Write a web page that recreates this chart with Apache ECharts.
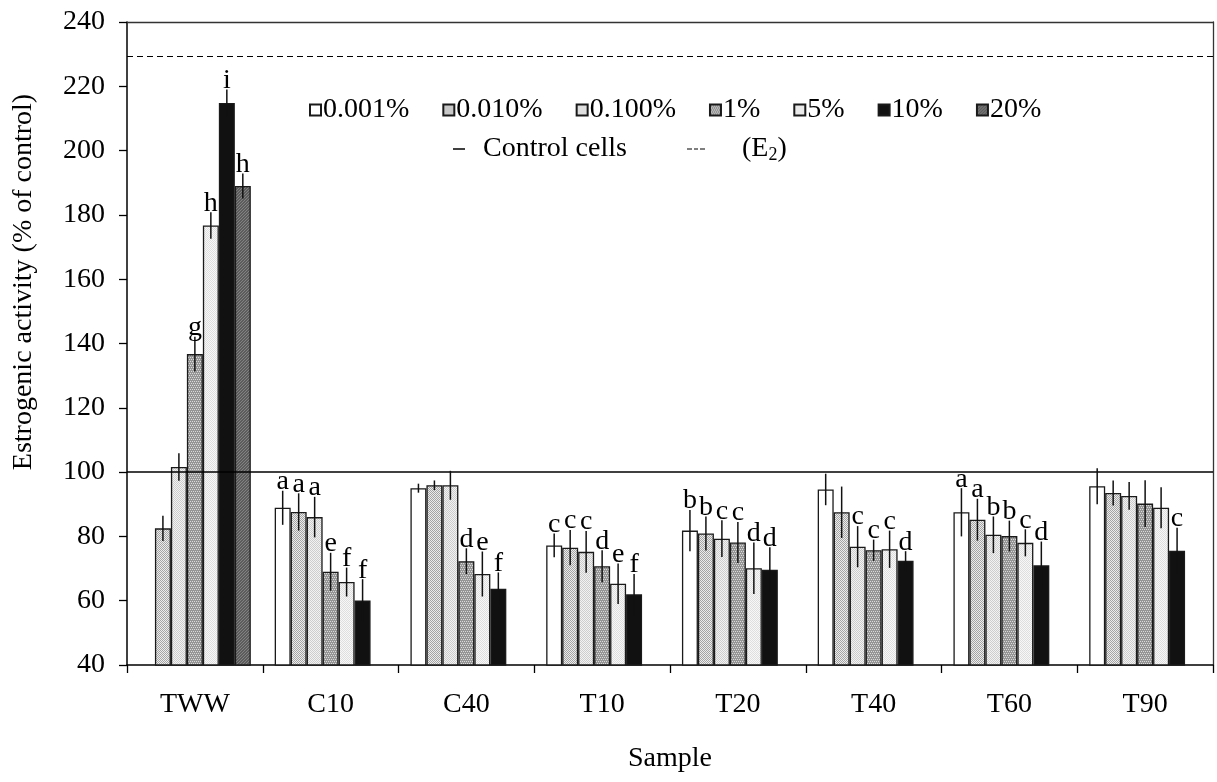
<!DOCTYPE html>
<html>
<head>
<meta charset="utf-8">
<script src="https://cdn.jsdelivr.net/npm/echarts@6/dist/echarts.min.js"></script>
<style>html,body{margin:0;padding:0;background:#fff}#c{width:1217px;height:782px}</style>
</head>
<body>
<div id="c"></div>
<script>
const categories = ['TWW','C10','C40','T10','T20','T40','T60','T90'];
const seriesNames = ['0.001%','0.010%','0.100%','1%','5%','10%','20%'];
const yTicks = {min: 40, max: 240, interval: 20};

const v001 = [null, 88.9, 95.0, 77.2, 81.8, 94.6, 87.5, 95.6];
const v010 = [82.5, 87.6, 95.9, 76.5, 80.9, 87.5, 85.2, 93.5];
const v100 = [101.6, 86.0, 95.9, 75.2, 79.3, 76.8, 80.5, 92.6];
const v1   = [136.7, 69.0, 72.3, 70.7, 78.1, 75.7, 80.1, 90.2];
const v5   = [176.7, 65.8, 68.3, 65.3, 70.1, 76.0, 78.0, 88.9];
const v10  = [214.8, 60.1, 63.7, 62.0, 69.6, 72.4, 71.0, 75.5];
const v20  = [189.0, null, null, null, null, null, null, null];

const e001 = [null, 5.3, 1.4, 3.7, 6.4, 4.9, 7.5, 5.6];
const e010 = [3.9, 5.8, 1.5, 5.5, 5.3, 8.0, 6.5, 3.9];
const e100 = [4.3, 6.3, 4.5, 6.5, 5.7, 6.4, 5.7, 4.3];
const e1   = [5.4, 5.9, 4.0, 5.0, 6.4, 3.3, 4.8, 7.3];
const e5   = [4.1, 4.5, 7.0, 6.3, 8.0, 5.8, 4.2, 6.4];
const e10  = [4.2, 6.6, 5.1, 6.3, 7.0, 3.0, 7.4, 7.2];
const e20  = [3.9, null, null, null, null, null, null, null];

const l001 = ['', 'a', '', 'c', 'b', '', 'a', ''];
const l010 = ['', 'a', '', 'c', 'b', '', 'a', ''];
const l100 = ['', 'a', '', 'c', 'c', 'c', 'b', ''];
const l1   = ['g', 'e', 'd', 'd', 'c', 'c', 'b', ''];
const l5   = ['h', 'f', 'e', 'e', 'd', 'c', 'c', ''];
const l10  = ['i', 'f', 'f', 'f', 'd', 'd', 'd', 'c'];
const l20  = ['h', '', '', '', '', '', '', ''];

const controlValue = 100;
const e2Value = 229.5;

const values = [v001, v010, v100, v1, v5, v10, v20];
const errors = [e001, e010, e100, e1, e5, e10, e20];
const letters = [l001, l010, l100, l1, l5, l10, l20];

const FONT = 'Liberation Serif';
const FS = 28;
const GAP = 0.176;

function pat(w, h, bg, fg, pts) {
  const c = document.createElement('canvas');
  c.width = w; c.height = h;
  const x = c.getContext('2d');
  x.fillStyle = bg; x.fillRect(0, 0, w, h);
  x.fillStyle = fg;
  pts.forEach(p => x.fillRect(p[0], p[1], 1, 1));
  return {image: c, repeat: 'repeat'};
}
const fills = [
  '#ffffff',
  pat(2, 2, '#ececec', '#a4a4a4', [[0,0],[1,1]]),
  pat(2, 2, '#f2f2f2', '#cdcdcd', [[0,0],[1,1]]),
  pat(4, 4, '#959595', '#dadada', [[0,1],[2,1],[1,3],[3,3]]),
  pat(2, 2, '#f7f7f7', '#dedede', [[0,0],[1,1]]),
  '#111111',
  pat(3, 3, '#5c5c5c', '#828282', [[0,0],[2,1],[1,2]])
];

const errItems = [];
values.forEach((arr, s) => arr.forEach((v, c) => {
  if (v != null) errItems.push([c, s, v, errors[s][c], letters[s][c]]);
}));

const barSeries = seriesNames.map((n, s) => ({
  name: n, type: 'bar',
  data: values[s],
  barGap: '0%', barCategoryGap: (GAP * 100) + '%',
  itemStyle: {color: fills[s], borderColor: '#1a1a1a', borderWidth: 1.3},
  emphasis: {disabled: true},
  animation: false
}));

const chart = echarts.init(document.getElementById('c'), null, {renderer: 'canvas'});
chart.setOption({
  backgroundColor: '#ffffff',
  animation: false,
  textStyle: {fontFamily: FONT},
  grid: {left: 127, right: 4, top: 22, bottom: 117},
  legend: [
    {data: seriesNames.map(n => ({name: n, icon: 'rect'})), left: 309, top: 96, padding: 0,
     itemWidth: 11, itemHeight: 11, itemGap: 33,
     textStyle: {fontFamily: FONT, fontSize: FS, color: '#000', padding: [0,0,0,-3]}, selectedMode: false},
    {data: [{name: 'Control cells', icon: 'rect'}], left: 453, top: 135, padding: 0, itemWidth: 12, itemHeight: 1.5,
     textStyle: {fontFamily: FONT, fontSize: FS, color: '#000', padding: [0,0,0,13]}, selectedMode: false},
    {data: [{name: 'E2', icon: 'path://M0,0h5v1h-5z M7,0h4v1h-4z M13,0h5v1h-5z'}], left: 687, top: 135, padding: 0,
     itemWidth: 18, itemHeight: 1.3,
     formatter: () => '(E{sub|2})',
     textStyle: {fontFamily: FONT, fontSize: FS, color: '#000', padding: [0,0,0,32],
       rich: {sub: {fontFamily: FONT, fontSize: 18, verticalAlign: 'bottom', padding: [12,0,0,0]}}},
     selectedMode: false}
  ],
  xAxis: [
    {type: 'category', data: categories, position: 'bottom',
     axisLine: {lineStyle: {color: '#000', width: 1.5}},
     axisTick: {show: true, inside: false, length: 8, alignWithLabel: false, lineStyle: {color: '#000', width: 1.3}},
     axisLabel: {fontFamily: FONT, fontSize: FS, color: '#000', margin: 26},
     name: 'Sample', nameLocation: 'middle', nameGap: 80,
     nameTextStyle: {fontFamily: FONT, fontSize: FS, color: '#000'}},
    {type: 'category', data: categories, position: 'top',
     axisLine: {lineStyle: {color: '#333', width: 1.3}}, axisTick: {show: false}, axisLabel: {show: false}}
  ],
  yAxis: [
    {type: 'value', min: yTicks.min, max: yTicks.max, interval: yTicks.interval,
     axisLine: {show: true, lineStyle: {color: '#000', width: 1.5}},
     axisTick: {show: true, inside: false, length: 8, lineStyle: {color: '#000', width: 1.3}},
     axisLabel: {fontFamily: FONT, fontSize: FS, color: '#000', margin: 22},
     splitLine: {show: false}},
    {type: 'value', min: yTicks.min, max: yTicks.max, interval: yTicks.interval, position: 'right',
     axisLine: {show: true, lineStyle: {color: '#333', width: 1.3}},
     axisTick: {show: false}, axisLabel: {show: false}, splitLine: {show: false}}
  ],
  graphic: [{
    type: 'text', x: 24, y: 282, rotation: Math.PI / 2,
    style: {text: 'Estrogenic activity (% of control)', font: FS + 'px "' + FONT + '"',
      fill: '#000', textAlign: 'center', textVerticalAlign: 'middle'}
  }],
  series: barSeries.concat([
    {name: 'Control cells', type: 'line', data: [], symbol: 'none',
     itemStyle: {color: '#000'},
     lineStyle: {color: '#000', width: 1.5, type: 'solid'},
     markLine: {silent: true, symbol: 'none', label: {show: false},
       lineStyle: {color: '#000', width: 1.5, type: 'solid'}, data: [{yAxis: controlValue}]}},
    {name: 'E2', type: 'line', data: [], symbol: 'none',
     itemStyle: {color: '#000'},
     lineStyle: {color: '#000', width: 1.2, type: [5, 4]},
     markLine: {silent: true, symbol: 'none', label: {show: false},
       lineStyle: {color: '#000', width: 1.2, type: [6, 4]}, data: [{yAxis: e2Value}]}},
    {type: 'custom', z: 5, data: errItems, encode: {x: 0, y: 2},
     renderItem: function (params, api) {
       const it = errItems[params.dataIndex];
       const c = it[0], s = it[1], v = it[2], e = it[3], lab = it[4];
       const band = api.size([1, 0])[0];
       const bw = band * (1 - GAP) / 7;
       const cx = api.coord([c, v])[0] + (s - 3) * bw;
       const yT = api.coord([c, v + e])[1];
       const yB = api.coord([c, v - e])[1];
       const children = [{type: 'line', shape: {x1: cx, y1: yT, x2: cx, y2: yB},
         style: {stroke: '#111', lineWidth: 1.5}}];
       if (lab) children.push({type: 'text', x: cx, y: yT + 5,
         style: {text: lab, font: FS + 'px "' + FONT + '"', fill: '#000', textAlign: 'center', textVerticalAlign: 'bottom'}});
       return {type: 'group', children: children};
     }}
  ])
});
</script>
</body>
</html>
